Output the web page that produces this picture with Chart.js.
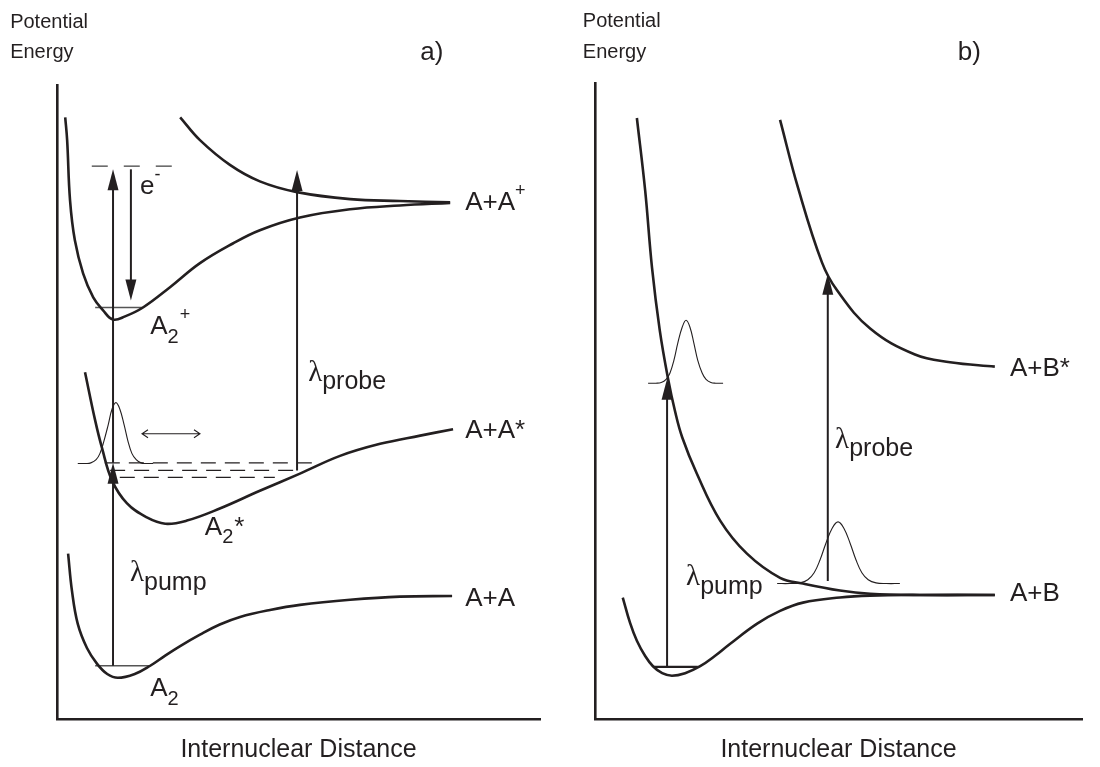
<!DOCTYPE html>
<html>
<head>
<meta charset="utf-8">
<title>Pump-probe potential energy curves</title>
<script src="https://cdn.jsdelivr.net/npm/chart.js@4.4.1/dist/chart.umd.min.js"></script>
<style>
  body { margin: 0; background: #fff; }
  #wrap { position: relative; width: 1100px; height: 767px; }
  canvas { position: absolute; top: 0; }
</style>
</head>
<body>
<div id="wrap">
  <canvas id="panelA" width="550" height="767" style="left:0"></canvas>
  <canvas id="panelB" width="550" height="767" style="left:550px"></canvas>
</div>
<script>
// ---- panel a: A2 ground, A2* excited, A2+ ion and repulsive A+A+ curves ----
const groundX = [0.23, 0.31, 0.43, 0.62, 0.83, 1.04, 1.26, 1.61, 1.93, 2.24, 2.55, 2.96, 3.37, 3.79, 4.41, 5.03, 6.07, 7.10, 8.18];
const groundY = [2.61, 2.02, 1.50, 1.12, 0.87, 0.71, 0.65, 0.71, 0.84, 1.00, 1.15, 1.33, 1.49, 1.61, 1.72, 1.80, 1.88, 1.93, 1.94];

const excitedX = [0.58, 0.79, 0.93, 1.14, 1.45, 1.86, 2.24, 2.69, 3.37, 4.20, 5.03, 5.86, 6.69, 7.52, 8.20];
const excitedY = [5.47, 4.71, 4.28, 3.76, 3.40, 3.18, 3.08, 3.13, 3.32, 3.60, 3.87, 4.15, 4.34, 4.47, 4.57];

const ionX = [0.17, 0.21, 0.27, 0.37, 0.54, 0.75, 0.95, 1.16, 1.41, 1.78, 2.34, 2.96, 3.64, 4.20, 5.03, 6.07, 7.10, 8.14];
const ionY = [9.49, 9.13, 8.18, 7.55, 7.03, 6.65, 6.45, 6.30, 6.35, 6.49, 6.81, 7.19, 7.50, 7.71, 7.91, 8.04, 8.10, 8.14];

const ionRepX = [2.55, 2.96, 3.58, 4.20, 4.97, 6.07, 7.10, 8.14];
const ionRepY = [9.49, 9.13, 8.74, 8.48, 8.31, 8.20, 8.17, 8.15];

// wave packet launched on A2*
const packetAX = [0.43, 0.60, 0.70, 0.81, 0.89, 0.97, 1.06, 1.14, 1.22, 1.30, 1.39, 1.47, 1.55, 1.64, 1.74, 1.84, 1.99];
const packetAY = [4.03, 4.03, 4.04, 4.09, 4.19, 4.38, 4.64, 4.89, 4.99, 4.89, 4.64, 4.38, 4.19, 4.09, 4.04, 4.03, 4.03];

// vibrational levels (solid) and dashed bands
const levelsA = [
  { x0: 0.79, x1: 1.93, y: 0.84 },   // A2 v=0
  { x0: 0.79, x1: 1.78, y: 6.49 }    // A2+ v=0
];
const bandsA = [
  { x0: 0.99, x1: 5.34, y: 4.04 },
  { x0: 1.10, x1: 4.97, y: 3.92 },
  { x0: 1.30, x1: 4.51, y: 3.81 }
];
const continuumA = { x0: 0.72, x1: 2.38, y: 8.72 };

const arrowsA = [
  { x: 1.16, from: 0.84, to: 4.04 },  // pump
  { x: 1.16, from: 4.04, to: 8.67 },
  { x: 1.53, from: 8.67, to: 6.60 },  // photoelectron
  { x: 4.97, from: 3.92, to: 8.66 }   // probe
];
const motionA = { y: 4.50, from: 1.76, to: 2.96 };

const labelsA = [
  { x: 8.45, y: 8.14, parts: [['A+A', 'n'], ['+', 'sup']] },
  { x: 8.45, y: 4.55, parts: [['A+A*', 'n']] },
  { x: 8.45, y: 1.90, parts: [['A+A', 'n']] },
  { x: 1.93, y: 6.18, parts: [['A', 'n'], ['2', 'sub'], ['+', 'sup']] },
  { x: 3.06, y: 3.02, parts: [['A', 'n'], ['2', 'sub'], ['*', 'n']] },
  { x: 1.93, y: 0.47, parts: [['A', 'n'], ['2', 'sub']] },
  { x: 1.72, y: 8.39, parts: [['e', 'n'], ['-', 'sup']] },
  { x: 5.20, y: 5.45, parts: [['λ', 'lam'], ['probe', 'lsub']] },
  { x: 1.51, y: 2.29, parts: [['λ', 'lam'], ['pump', 'lsub']] },
  { x: -0.97, y: 10.99, parts: [['Potential', 'head']] },
  { x: -0.97, y: 10.51, parts: [['Energy', 'head']] },
  { x: 7.52, y: 10.51, parts: [['a)', 'n']] }
];

// ---- panel b: bound A+B ground, repulsive A+B and A+B* curves ----
const boundBX = [0.57, 0.72, 0.86, 1.03, 1.19, 1.38, 1.58, 1.85, 2.16, 2.46, 2.77, 3.33, 3.80, 4.27, 5.03, 5.65, 6.67, 8.21];
const boundBY = [1.91, 1.51, 1.23, 0.99, 0.83, 0.72, 0.68, 0.72, 0.83, 0.99, 1.18, 1.50, 1.70, 1.83, 1.91, 1.94, 1.95, 1.95];

const repBX = [0.86, 1.03, 1.17, 1.33, 1.50, 1.64, 1.79, 2.09, 2.57, 3.12, 3.80, 4.27, 5.03, 5.65, 6.67, 8.21];
const repBY = [9.45, 8.31, 7.10, 6.11, 5.35, 4.85, 4.43, 3.86, 3.12, 2.60, 2.22, 2.13, 2.02, 1.97, 1.95, 1.95];

const upperBX = [3.80, 4.17, 4.66, 4.97, 5.65, 6.57, 7.29, 8.21];
const upperBY = [9.42, 8.35, 7.18, 6.74, 6.14, 5.73, 5.61, 5.54];

const packetB1X = [1.09, 1.25, 1.36, 1.46, 1.54, 1.62, 1.70, 1.79, 1.87, 1.95, 2.03, 2.11, 2.20, 2.28, 2.38, 2.48, 2.63];
const packetB1Y = [5.28, 5.28, 5.29, 5.34, 5.44, 5.64, 5.91, 6.16, 6.27, 6.16, 5.91, 5.64, 5.44, 5.34, 5.29, 5.28, 5.28];

const packetB2X = [3.74, 4.00, 4.21, 4.37, 4.50, 4.62, 4.74, 4.87, 4.99, 5.11, 5.24, 5.36, 5.48, 5.61, 5.77, 5.98, 6.26];
const packetB2Y = [2.13, 2.13, 2.14, 2.19, 2.30, 2.50, 2.76, 3.00, 3.10, 3.00, 2.76, 2.50, 2.30, 2.19, 2.14, 2.13, 2.13];

const levelsB = [{ x0: 1.19, x1: 2.11, y: 0.82 }];

const arrowsB = [
  { x: 1.48, from: 0.82, to: 5.35 },  // pump
  { x: 4.78, from: 2.17, to: 7.00 }   // probe
];

const labelsB = [
  { x: 8.52, y: 5.51, parts: [['A+B*', 'n']] },
  { x: 8.52, y: 1.97, parts: [['A+B', 'n']] },
  { x: 4.93, y: 4.38, parts: [['λ', 'lam'], ['probe', 'lsub']] },
  { x: 1.87, y: 2.22, parts: [['λ', 'lam'], ['pump', 'lsub']] },
  { x: -0.25, y: 10.96, parts: [['Potential', 'head']] },
  { x: -0.25, y: 10.48, parts: [['Energy', 'head']] },
  { x: 7.45, y: 10.48, parts: [['b)', 'n']] }
];

const ink = '#231f20';
const sans = "'Liberation Sans', Arial, Helvetica, sans-serif";
const serif = "'Liberation Serif', 'Times New Roman', serif";

const textStyles = {
  n:    { size: 26, dy: 0,   family: sans },
  sub:  { size: 20, dy: 10,  family: sans },
  sup:  { size: 18, dy: -12, family: sans },
  lam:  { size: 29, dy: 0,   family: serif },
  lsub: { size: 25, dy: 9,   family: sans },
  head: { size: 20, dy: 0,   family: sans }
};

Chart.defaults.font.family = sans;
Chart.defaults.color = ink;

function pts(xs, ys) {
  return xs.map((x, i) => ({ x: x, y: ys[i] }));
}

function curve(xs, ys, width) {
  return {
    data: pts(xs, ys), showLine: true, pointRadius: 0,
    borderColor: ink, borderWidth: width, tension: 0.4
  };
}

function segment(s, width, color, dash) {
  return {
    data: [{ x: s.x0, y: s.y }, { x: s.x1, y: s.y }], showLine: true, pointRadius: 0,
    borderColor: color, borderWidth: width, borderDash: dash || []
  };
}

// arrows, motion marker and text labels, placed through the chart scales
const annotate = {
  id: 'annotate',
  afterDatasetsDraw(chart, args, opts) {
    const ctx = chart.ctx;
    const sx = chart.scales.x, sy = chart.scales.y;
    ctx.save();
    ctx.strokeStyle = ink;
    ctx.fillStyle = ink;

    (opts.arrows || []).forEach(a => {
      const px = sx.getPixelForValue(a.x);
      const p0 = sy.getPixelForValue(a.from);
      const p1 = sy.getPixelForValue(a.to);
      const dir = p1 < p0 ? -1 : 1;
      ctx.lineWidth = 2;
      ctx.beginPath();
      ctx.moveTo(px, p0);
      ctx.lineTo(px, p1 - dir * 12);
      ctx.stroke();
      ctx.beginPath();
      ctx.moveTo(px, p1);
      ctx.lineTo(px - 5.5, p1 - dir * 21);
      ctx.lineTo(px + 5.5, p1 - dir * 21);
      ctx.closePath();
      ctx.fill();
    });

    if (opts.motion) {
      const m = opts.motion;
      const py = sy.getPixelForValue(m.y);
      const l = sx.getPixelForValue(m.from), r = sx.getPixelForValue(m.to);
      ctx.lineWidth = 1.1;
      ctx.beginPath();
      ctx.moveTo(l, py); ctx.lineTo(r, py);
      ctx.moveTo(l + 6, py - 4); ctx.lineTo(l, py); ctx.lineTo(l + 6, py + 4);
      ctx.moveTo(r - 6, py - 4); ctx.lineTo(r, py); ctx.lineTo(r - 6, py + 4);
      ctx.stroke();
    }

    ctx.textBaseline = 'middle';
    ctx.textAlign = 'left';
    (opts.labels || []).forEach(lb => {
      let cx = sx.getPixelForValue(lb.x);
      const cy = sy.getPixelForValue(lb.y);
      lb.parts.forEach(([t, kind]) => {
        const st = textStyles[kind];
        ctx.font = st.size + 'px ' + st.family;
        ctx.fillText(t, cx, cy + st.dy);
        cx += ctx.measureText(t).width + (kind === 'sub' ? 1 : 0);
      });
    });
    ctx.restore();
  }
};

function makeOptions(pad, extra) {
  return {
    responsive: false,
    animation: false,
    layout: { padding: pad },
    plugins: {
      legend: { display: false },
      tooltip: { enabled: false },
      annotate: extra
    },
    scales: {
      x: {
        type: 'linear', min: 0, max: 10,
        ticks: { display: false },
        grid: { display: false, drawTicks: false },
        border: { color: ink, width: 2.6 },
        title: {
          display: true, text: 'Internuclear Distance', color: ink,
          font: { size: 25 }, padding: { top: 16, bottom: 0 }
        }
      },
      y: {
        type: 'linear', min: 0, max: 10,
        ticks: { display: false },
        grid: { display: false, drawTicks: false },
        border: { color: ink, width: 2.6 }
      }
    }
  };
}

new Chart(document.getElementById('panelA'), {
  type: 'scatter',
  data: {
    datasets: [
      curve(groundX, groundY, 2.6),
      curve(excitedX, excitedY, 2.6),
      curve(ionX, ionY, 2.6),
      curve(ionRepX, ionRepY, 2.6),
      curve(packetAX, packetAY, 1.1),
      segment(levelsA[0], 1.4, '#555'),
      segment(levelsA[1], 1.4, '#555'),
      segment(bandsA[0], 1.2, ink, [15, 9]),
      segment(bandsA[1], 1.2, ink, [15, 9]),
      segment(bandsA[2], 1.2, ink, [15, 9]),
      segment(continuumA, 1.4, '#555', [16, 16])
    ]
  },
  options: makeOptions({ left: 57, right: 10, top: 85, bottom: 2 },
    { arrows: arrowsA, motion: motionA, labels: labelsA }),
  plugins: [annotate]
});

new Chart(document.getElementById('panelB'), {
  type: 'scatter',
  data: {
    datasets: [
      curve(boundBX, boundBY, 2.6),
      curve(repBX, repBY, 2.6),
      curve(upperBX, upperBY, 2.6),
      curve(packetB1X, packetB1Y, 1.1),
      curve(packetB2X, packetB2Y, 1.1),
      segment(levelsB[0], 2.2, ink)
    ]
  },
  options: makeOptions({ left: 45, right: 18, top: 83, bottom: 2 },
    { arrows: arrowsB, labels: labelsB }),
  plugins: [annotate]
});
</script>
</body>
</html>
